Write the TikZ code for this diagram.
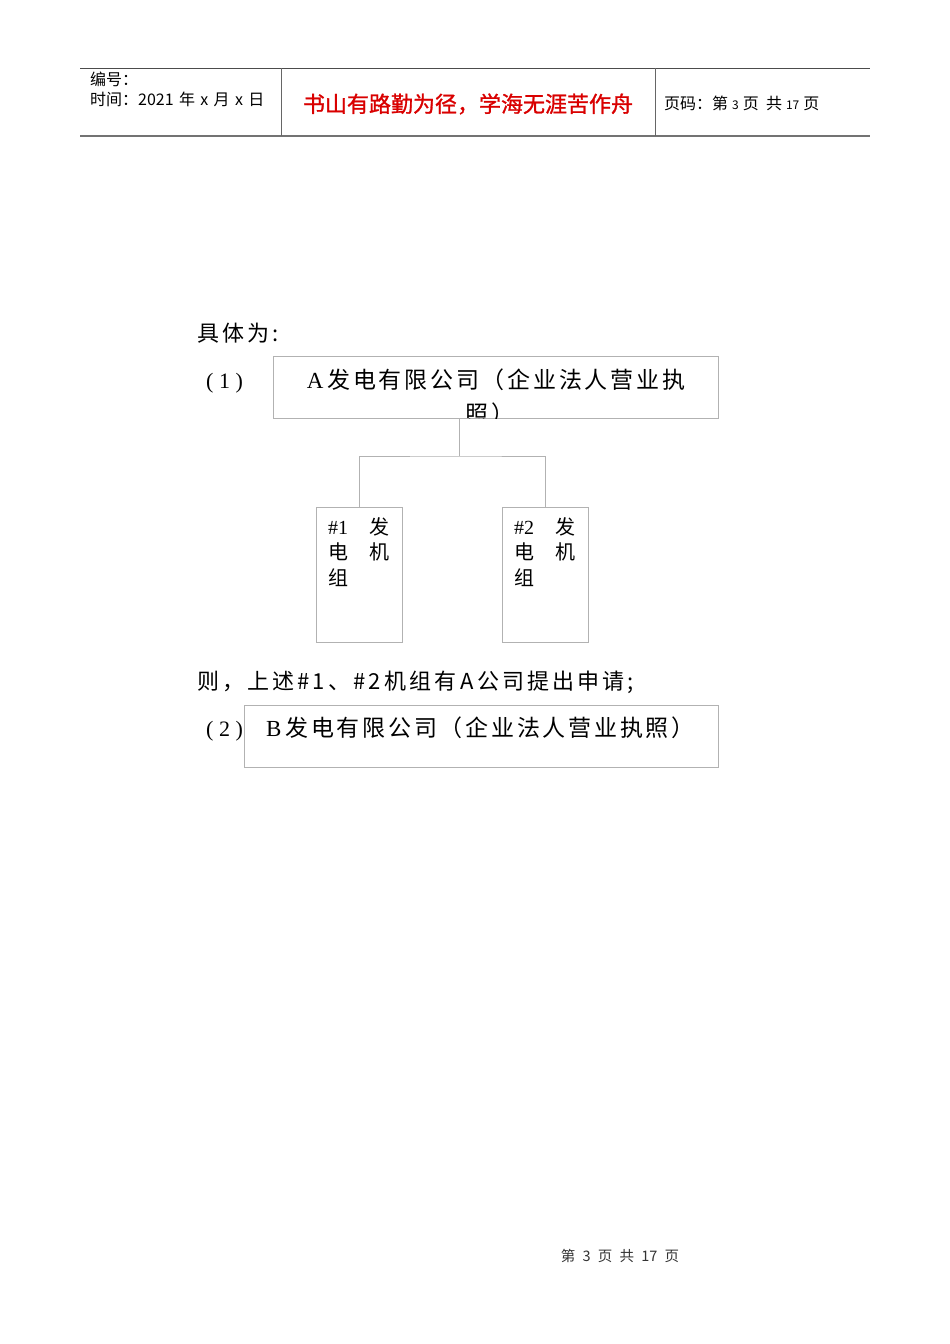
\documentclass[tikz,border=0pt]{standalone}
\usepackage{fontspec}
\setmainfont{Liberation Serif}
\newfontfamily\cjk{Noto Sans CJK SC}
\newfontfamily\cjkbody{Noto Sans CJK SC}[LetterSpace=14]
\newfontfamily\cjkwide{Noto Sans CJK SC}[LetterSpace=12]
\newfontfamily\cjkbold{Noto Sans CJK SC}[FakeBold=1.2]

% text of one generator box: "#n 发 / 电 机 / 组"
\newcommand\unitlabel[1]{\makebox[41pt][l]{\rmfamily\##1}发\\\makebox[41pt][l]{电}机\\组}

\begin{document}
\begin{tikzpicture}[x=1pt,y=-1pt,
  box/.style={draw=black!30, line width=0.9pt, fill=white, inner sep=0pt},
  link/.style={draw=black!30, line width=1pt},
  hdr/.style={font=\cjk\fontsize{16}{18}\selectfont, anchor=west, inner sep=0pt},
  motto/.style={font=\cjkbold\fontsize{22}{24}\selectfont, text=red!85!black, inner sep=0pt},
  body/.style={font=\cjkbody\fontsize{22}{26}\selectfont, anchor=west, inner sep=0pt},
  title/.style={font=\cjkwide\fontsize{23}{27}\selectfont, inner sep=0pt},
  unitlbl/.style={font=\cjk\fontsize{20}{25.5}\selectfont, align=left, anchor=north west, inner sep=0pt},
  foot/.style={font=\cjk\fontsize{14.5}{16}\selectfont, text=black!80, inner sep=0pt}]
\fill[white] (0,0) rectangle (950,1344);
\useasboundingbox (0,0) rectangle (950,1344);

% header
\draw[black!70, line width=0.9pt] (80,68) -- (870,68);
\draw[black!55, line width=2pt] (80,136) -- (870,136);
\draw[black!60, line width=0.8pt] (281,68) -- (281,136);
\draw[black!60, line width=0.8pt] (655,68) -- (655,136);
\node[hdr] (num) at (90,79) {编号：};
\node[hdr] (date) at (90,99) {时间：2021\,\,年\,\,x\,\,月\,\,x\,\,日};
\node[motto] (motto) at (468,104) {书山有路勤为径，学海无涯苦作舟};
\node[hdr] (page) at (664,103) {页码：第{\fontsize{12}{13}\selectfont\,\,3\,\,}页\ \ 共{\fontsize{12}{13}\selectfont\,\,17\,\,}页};

% (1)
\node[body] (intro) at (197,333) {具体为:};
\node[body] (n1) at (206,383) {\rmfamily( 1 )};
\node[box, minimum width=445, minimum height=62, anchor=north west] (A) at (273,356) {};
\begin{scope}
  \clip (A.north west) rectangle (A.south east);
  \node[title] (Aname) at (496,380) {{\rmfamily A}\,发电有限公司（企业法人营业执};
  \node[title] (Arest) at (490,414) {照）};
\end{scope}

\node[box, minimum width=86, minimum height=135, anchor=north west] (u1) at (316,507) {};
\node[box, minimum width=86, minimum height=135, anchor=north west] (u2) at (502,507) {};
\node[unitlbl] (u1txt) at ([shift={(12,10)}]u1.north west) {\unitlabel{1}};
\node[unitlbl] (u2txt) at ([shift={(12,10)}]u2.north west) {\unitlabel{2}};

\coordinate (stem) at (459,456);
\draw[link] (A.south -| stem) -- (stem);
\draw[link] (u1.north) |- (stem) -| (u2.north);

% (2)
\node[body] (note) at (197,682) {则，上述\#1、\#2\,机组有\,A\,公司提出申请;};
\node[body] (n2) at (206,731) {\rmfamily( 2 )};
\node[box, minimum width=474, minimum height=62, anchor=north west] (B) at (244,705) {};
\node[title, anchor=west] (Bname) at (266,728) {{\rmfamily B}\,发电有限公司（企业法人营业执照）};

% footer
\node[foot] (ft) at (620,1256) {第\,\,\,3\,\,\,页\,\,\,共\,\,\,17\,\,\,页};
\end{tikzpicture}
\end{document}
